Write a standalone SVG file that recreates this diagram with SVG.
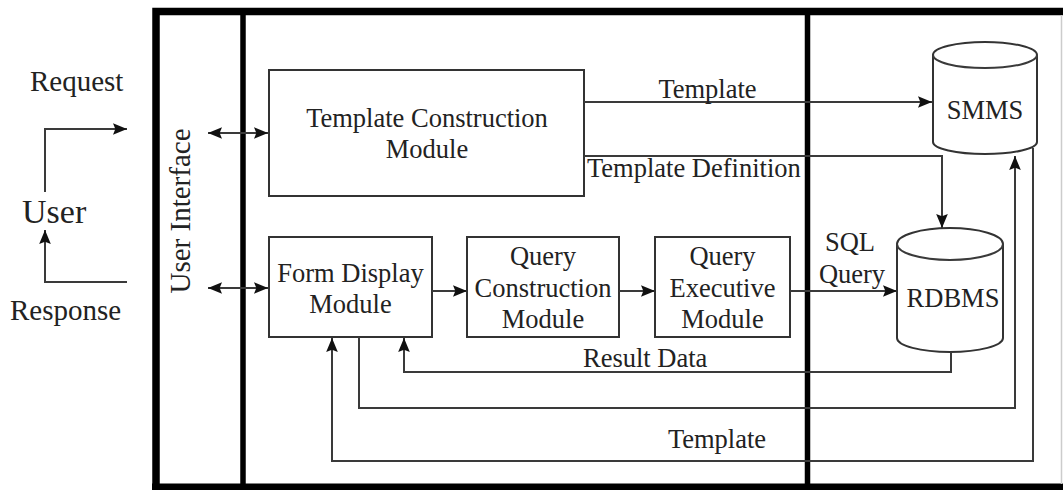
<svg xmlns="http://www.w3.org/2000/svg" width="1063" height="490" viewBox="0 0 1063 490">
<defs>
<marker id="ah" viewBox="0 0 12 10" refX="12" refY="5" markerWidth="14" markerHeight="12" markerUnits="userSpaceOnUse" orient="auto-start-reverse">
<path d="M0,0 L12,5 L0,10 L2,5 Z" fill="#111"/>
</marker>
<style>
.t{font-family:"Liberation Serif","Times New Roman",serif;font-size:26.5px;fill:#222;}
.c{text-anchor:middle;}
.box{fill:#fff;stroke:#333;stroke-width:2;}
.ln{fill:none;stroke:#3a3a3a;stroke-width:2;}
.thick{fill:none;stroke:#000;}
</style>
</defs>
<rect width="1063" height="490" fill="#fff"/>
<g id="frame">
<path class="thick" d="M156,490 V11.5 H1063" stroke-width="7.5"/>
<path class="thick" d="M152,487 H1063" stroke-width="7"/>
<line x1="243" y1="11" x2="243" y2="487" stroke="#000" stroke-width="5.5"/>
<line x1="807.5" y1="11" x2="807.5" y2="487" stroke="#000" stroke-width="5.5"/>
<line x1="1061.5" y1="15" x2="1061.5" y2="484" stroke="#ccc" stroke-width="1.5"/>
</g>
<g id="user">
<text class="t" x="30" y="91" style="font-size:29px">Request</text>
<text class="t" x="22" y="223" style="font-size:34px">User</text>
<text class="t" x="10" y="320" style="font-size:29px">Response</text>
</g>
<g id="ui">
<text class="t c" transform="translate(190,211) rotate(-90)" style="font-size:29px">User Interface</text>
</g>
<g id="tcm">
<rect class="box" x="269" y="70" width="315" height="126"/>
<text class="t c" x="427" y="127">Template Construction</text>
<text class="t c" x="427" y="158">Module</text>
</g>
<g id="fdm">
<rect class="box" x="269" y="237" width="163" height="100"/>
<text class="t c" x="350.5" y="282">Form Display</text>
<text class="t c" x="350.5" y="313">Module</text>
</g>
<g id="qcm">
<rect class="box" x="467" y="237" width="152" height="100"/>
<text class="t c" x="543" y="265">Query</text>
<text class="t c" x="543" y="297">Construction</text>
<text class="t c" x="543" y="328">Module</text>
</g>
<g id="qem">
<rect class="box" x="655" y="237" width="135" height="100"/>
<text class="t c" x="722.5" y="265">Query</text>
<text class="t c" x="722.5" y="297">Executive</text>
<text class="t c" x="722.5" y="328">Module</text>
</g>
<g id="smms">
<path class="box" d="M933,55 V142 A52,12 0 0 0 1037,142 V55 A52,13 0 0 0 933,55 Z"/>
<path class="ln" d="M933,55 A52,13 0 0 0 1037,55"/>
<text class="t c" x="985" y="119">SMMS</text>
</g>
<g id="rdbms">
<path class="box" d="M897,244 V338 A53,14 0 0 0 1003,338 V244 A53,16 0 0 0 897,244 Z"/>
<path class="ln" d="M897,244 A53,16 0 0 0 1003,244"/>
<text class="t c" x="953" y="307">RDBMS</text>
</g>
<g id="connectors">
<path class="ln" d="M45,192 V129 H127" marker-end="url(#ah)"/>
<path class="ln" d="M127,282 H45 V230" marker-end="url(#ah)"/>
<path class="ln" d="M208,133 H268" marker-start="url(#ah)" marker-end="url(#ah)"/>
<path class="ln" d="M208,288 H268" marker-start="url(#ah)" marker-end="url(#ah)"/>
<path class="ln" d="M584,102 H932" marker-end="url(#ah)"/>
<path class="ln" d="M584,156 H942 V228" marker-end="url(#ah)"/>
<path class="ln" d="M432,291 H467" marker-end="url(#ah)"/>
<path class="ln" d="M619,291 H655" marker-end="url(#ah)"/>
<path class="ln" d="M790,291 H897" marker-end="url(#ah)"/>
<path class="ln" d="M951,352 V372 H404 V338" marker-end="url(#ah)"/>
<path class="ln" d="M359,337 V408 H1015 V156" marker-end="url(#ah)"/>
<path class="ln" d="M1033,148 V461 H332 V338" marker-end="url(#ah)"/>
<text class="t c" x="707.5" y="98">Template</text>
<text class="t" x="587" y="177">Template Definition</text>
<text class="t c" x="850" y="251">SQL</text>
<text class="t c" x="852" y="283">Query</text>
<text class="t" x="583" y="367">Result Data</text>
<text class="t c" x="717" y="448">Template</text>
</g>
</svg>
